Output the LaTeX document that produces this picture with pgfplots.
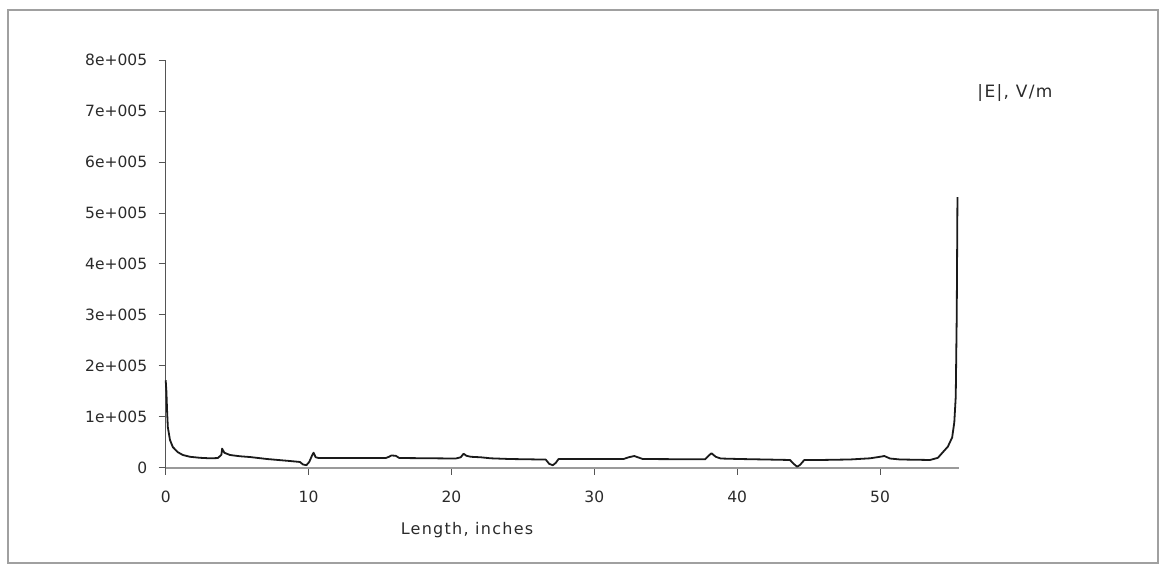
\documentclass[border=0pt]{standalone}
\usepackage{fontspec}
\setmainfont{DejaVu Sans}
\newfontfamily\lbl[LetterSpace=8]{DejaVu Sans}
\usepackage{pgfplots}
\pgfplotsset{compat=1.18}
\definecolor{txt}{HTML}{2A2A2A}
\definecolor{frame}{HTML}{A0A0A0}
\definecolor{yax}{HTML}{555555}
\definecolor{xax}{HTML}{9A9A9A}
\definecolor{curve}{HTML}{1A1A1A}
\begin{document}
\begin{tikzpicture}[x=1pt,y=1pt]
\path[use as bounding box] (0,0) rectangle (1163,568);
\draw[frame, line width=1.5pt] (8,5) rectangle (1158,558);
\begin{axis}[
  at={(165.7pt,100pt)}, anchor=south west,
  scale only axis, width=792.9pt, height=408pt,
  xmin=0, xmax=55.5, ymin=0, ymax=800000,
  axis x line=bottom, axis y line=left,
  axis line style={-},
  x axis line style={xax, line width=2.5pt},
  y axis line style={yax, line width=1.5pt},
  tick align=outside,
  major tick length=7pt,
  tick style={yax, line width=1pt},
  xtick={0,10,20,30,40,50},
  xticklabels={0,10,20,30,40,50},
  ytick={0,100000,200000,300000,400000,500000,600000,700000,800000},
  yticklabels={0,1e+005,2e+005,3e+005,4e+005,5e+005,6e+005,7e+005,8e+005},
  ticklabel style={font=\fontsize{15.5}{18}\selectfont, text=txt},
  yticklabel style={xshift=-8pt},
  xticklabel style={yshift=-12pt},
  scaled y ticks=false,
  clip=false,
]
\addplot[curve, line width=1.8pt, line join=round] coordinates {
(0,172000) (0.05,150000) (0.1,110000) (0.15,80000) (0.3,55000) (0.5,41000)
(0.85,31000) (1.2,25500) (1.7,22000) (2.4,20000) (3.1,19000) (3.65,19500)
(3.9,26000) (3.95,38000) (4.1,30000) (4.5,25500) (5.2,23000) (5.9,21500)
(7.1,17600) (8.7,13700) (9.4,11800) (9.6,7000) (9.85,5500) (10.05,12000)
(10.25,25000) (10.35,30000) (10.5,21000) (10.7,19600) (15.4,19600)
(15.6,21600) (15.8,24500) (16.1,24000) (16.35,19600) (20.3,18600)
(20.65,21000) (20.85,28000) (21.05,24000) (21.35,22000) (22.05,21000)
(22.75,19000) (24.1,17600) (25.5,17000) (26.6,16500) (26.85,8000)
(27.1,5500) (27.3,10000) (27.5,17600) (32.05,17600) (32.4,21000)
(32.8,23500) (33.1,20500) (33.4,17600) (37.75,17000) (38.0,24000)
(38.2,29000) (38.5,22000) (38.85,18600) (40.2,17600) (42.3,16500)
(43.7,15700) (43.96,8000) (44.2,2500) (44.4,6000) (44.7,15700)
(45.8,15700) (47.9,16700) (49.3,19000) (50.0,22000) (50.3,23500)
(50.7,18600) (51.4,16700) (53.5,15700) (54.05,20000) (54.4,31000)
(54.75,42000) (55.05,60000) (55.2,90000) (55.3,140000) (55.37,300000)
(55.42,531000)
};
\end{axis}
\node[font=\lbl\fontsize{16}{18}\selectfont, text=txt] at (467,38) {Length, inches};
\node[font=\lbl\fontsize{17}{19}\selectfont, text=txt] at (1015,475) {|E|, V/m};
\end{tikzpicture}
\end{document}
